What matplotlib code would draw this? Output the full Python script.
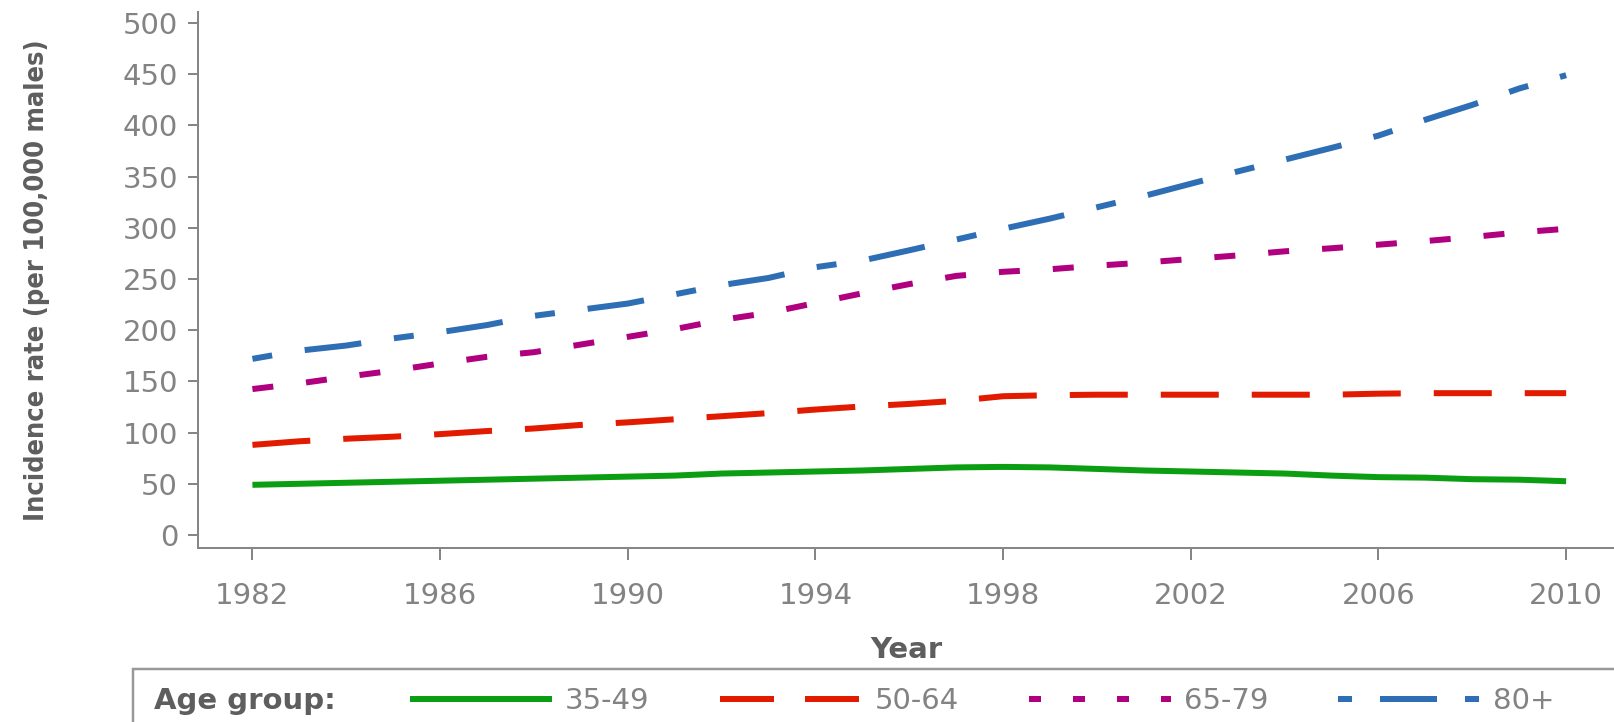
import matplotlib
matplotlib.use("Agg")
import matplotlib.pyplot as plt
from matplotlib import font_manager
from matplotlib.font_manager import FontProperties
from matplotlib.lines import Line2D
from matplotlib.patches import Rectangle

# ---- data -------------------------------------------------------------
years = list(range(1982, 2011))
age_groups = ["35-49", "50-64", "65-79", "80+"]

rate_35_49 = [49, 50, 51, 52, 53, 54, 55, 56, 57, 58, 60, 61, 62, 63, 64.5,
              66, 66.5, 66, 64.5, 63, 62, 61, 60, 58, 56.5, 56, 54.5, 54, 52.5]
rate_50_64 = [88, 91.5, 94, 96, 98.5, 101.5, 104, 107.5, 110, 113, 116, 119,
              122.5, 125.5, 128, 131, 135.5, 136.5, 137, 137, 137, 137, 137,
              137, 138, 138.5, 138.5, 138.5, 138.5]
rate_65_79 = [142.5, 148, 154.5, 160.5, 167.5, 174, 178.5, 186, 193.5, 201,
              210, 217, 226.5, 236, 245, 253, 257, 259.5, 263, 266, 269.5,
              273, 277, 280, 283.5, 287, 291, 295.5, 299]
rate_80_plus = [172, 180, 185, 192, 198, 205, 214, 220, 226, 235, 244, 251,
                261.5, 268, 278, 288.5, 299, 309, 320, 331, 343, 355, 366.5,
                378, 390, 405.5, 420, 436, 449]

xticks = [1982, 1986, 1990, 1994, 1998, 2002, 2006, 2010]
yticks = [0, 50, 100, 150, 200, 250, 300, 350, 400, 450, 500]

# ---- styling ----------------------------------------------------------
DPI = 100
PX = 72.0 / DPI          # points per pixel
plt.rcParams["lines.scale_dashes"] = False
plt.rcParams["font.family"] = ["DejaVu Sans"]

colors = ["#0c9e12", "#e21a00", "#b0007f", "#2e6eb5"]
line_px = 6
# dash patterns in pixels: (offset, (on, off, ...)); None = solid
plot_dashes = [None, (0, (58, 33)), (0, (21, 33)), (0, (20, 33, 57, 33))]
legend_dashes = [None, (0, (54, 31)), (0, (12, 32)), (0, (14, 28, 57, 28))]


def to_pt(pattern):
    if pattern is None:
        return "solid"
    off, seq = pattern
    return (off * PX, tuple(v * PX for v in seq))


def narrow_bold_font():
    """Pick a condensed bold face if one is installed."""
    best = None
    for f in font_manager.fontManager.ttflist:
        name = f.name.lower()
        narrow = ("narrow" in name or "condensed" in name
                  or "condensed" in str(f.stretch))
        w = f.weight if isinstance(f.weight, int) else {"bold": 700}.get(f.weight, 400)
        if narrow and w >= 600 and "extra" not in str(f.stretch) \
                and "ultra" not in str(f.stretch):
            score = (0 if "liberation" in name else 1, abs(w - 700))
            if best is None or score < best[0]:
                best = (score, f.fname)
    if best is not None:
        return FontProperties(fname=best[1])
    return FontProperties(family="DejaVu Sans", weight="bold")


axis_gray = "#868686"
tick_gray = "#838383"
label_gray = "#5e5e5e"
tick_fs = 21

fig = plt.figure(figsize=(16.14, 7.22), dpi=DPI)
W, H = 1614, 722
ax_left, ax_right, ax_top, ax_bottom = 198, 1614, 12, 548
ax = fig.add_axes([ax_left / W, 1 - ax_bottom / H,
                   (ax_right - ax_left) / W, (ax_bottom - ax_top) / H])

series = [rate_35_49, rate_50_64, rate_65_79, rate_80_plus]
for vals, col, dsh in zip(series, colors, plot_dashes):
    ax.plot(years, vals, color=col, lw=line_px * PX, linestyle=to_pt(dsh),
            dash_capstyle="butt", solid_capstyle="butt", clip_on=False)

ax.set_xlim(1980.84, 2011.02)
ax.set_ylim(-12.7, 510.7)
ax.set_xticks(xticks)
ax.set_yticks(yticks)
ax.set_xticklabels([str(y) for y in xticks])
ax.set_yticklabels([str(v) for v in yticks])

for side in ("top", "right"):
    ax.spines[side].set_visible(False)
for side in ("left", "bottom"):
    ax.spines[side].set_color(axis_gray)
    ax.spines[side].set_linewidth(2 * PX)

ax.tick_params(axis="y", length=10 * PX, width=2 * PX, color=axis_gray,
               labelcolor=tick_gray, labelsize=tick_fs, pad=10 * PX)
ax.tick_params(axis="x", length=12 * PX, width=2 * PX, color=axis_gray,
               labelcolor=tick_gray, labelsize=tick_fs, pad=22 * PX)

ax.set_xlabel("Year", fontsize=21, fontweight="bold", color=label_gray)
ax.xaxis.set_label_coords(0.5, (ax_bottom - 636) / (ax_bottom - ax_top))
ax.xaxis.label.set_va("top")

# y label: condensed bold face, sized to span the plot height
ylab_fp = narrow_bold_font()
ylab_fp.set_size(26)
ylab = ax.set_ylabel("Incidence rate (per 100,000 males)",
                     fontproperties=ylab_fp, color=label_gray)
renderer = fig.canvas.get_renderer()
span = ylab.get_window_extent(renderer).height
ylab_fp.set_size(26 * 482.0 / span)
ylab.set_fontproperties(ylab_fp)
ax.yaxis.set_label_coords((50 - ax_left) / (ax_right - ax_left), 0.5)

# ---- legend -----------------------------------------------------------
fig.add_artist(Rectangle((133 / W, -0.1), 1.0, 0.1 + 1 - 669 / H,
                         transform=fig.transFigure, fill=False,
                         edgecolor="#999999", lw=2.5 * PX, clip_on=False))
leg_y = 1 - 701 / H
fig.text(154 / W, leg_y, "Age group:", fontsize=21, fontweight="bold",
         color=label_gray, ha="left", va="center")

handles = [Line2D([], [], color=c, lw=line_px * PX, linestyle=to_pt(d),
                  dash_capstyle="butt", solid_capstyle="butt")
           for c, d in zip(colors, legend_dashes)]
fs_px = tick_fs / PX
fig.legend(handles, age_groups, ncol=4, loc="center left",
           bbox_to_anchor=(410 / W, leg_y), frameon=False, fontsize=tick_fs,
           labelcolor=tick_gray, handlelength=142 / fs_px,
           handletextpad=13 / fs_px, columnspacing=70 / fs_px,
           borderpad=0, borderaxespad=0)

fig.savefig("out.png", dpi=DPI)
